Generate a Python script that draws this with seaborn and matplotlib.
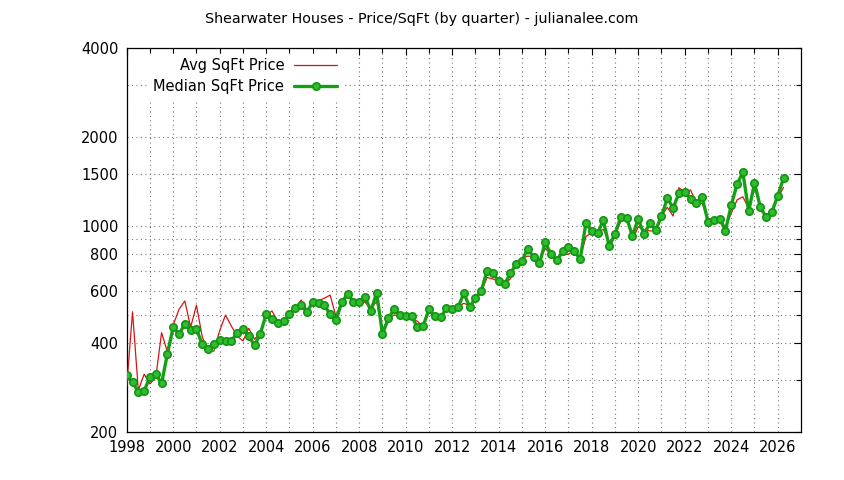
import numpy as np
import pandas as pd
import matplotlib
matplotlib.use("Agg")
import matplotlib.pyplot as plt
from matplotlib.ticker import FixedLocator, NullFormatter
import seaborn as sns

# quarterly values, 1998 Q1 .. 2026 Q2
median_price = [
    311, 295, 273, 275, 308, 314, 292, 368, 453, 429, 464, 442, 446, 396, 383, 396, 411,
    407, 407, 433, 446, 422, 393, 431, 502, 482, 467, 475, 502, 525, 537, 511, 550, 546, 537, 502, 478,
    550, 587, 553, 553, 575, 514, 593, 429, 485, 521, 497, 493, 493, 453, 457, 521,
    494, 489, 525, 521, 529, 590, 531, 568, 602, 704, 690, 649, 633, 690, 740, 761, 836, 781, 745, 878, 800,
    763, 819, 849, 823, 769, 1019, 959, 942, 1043, 851, 935, 1072, 1062, 925, 1053, 935, 1019,
    967, 1076, 1238, 1150, 1287, 1300, 1234, 1191, 1247, 1032, 1043, 1056, 962, 1172, 1384, 1516, 1118, 1395,
    1157, 1068, 1113, 1263, 1450,
]
avg_price = [
    285, 511, 277, 314, 291, 306, 434, 374, 461, 521, 556, 453, 538, 420, 376, 376, 441,
    498, 457, 423, 407, 449, 412, 437, 498, 514, 473, 479, 505, 521, 560, 518, 546, 557, 568, 582, 492,
    560, 575, 553, 553, 550, 525, 553, 443, 485, 498, 496, 485, 482, 475, 455, 518,
    479, 485, 520, 520, 531, 546, 536, 560, 597, 668, 660, 646, 636, 660, 755, 775, 789, 785, 755, 838, 797,
    775, 800, 800, 830, 775, 917, 952, 952, 972, 883, 930, 1032, 1060, 893, 992, 967, 960,
    962, 1076, 1154, 1078, 1345, 1300, 1321, 1191, 1191, 1061, 1040, 1060, 987, 1102, 1222, 1253, 1145, 1380,
    1160, 1068, 1113, 1240, 1349,
]
quarter = [1998 + i / 4 for i in range(len(median_price))]

year_labels = list(range(1998, 2027, 2))
y_major = [200, 400, 600, 800, 1000, 1500, 2000, 4000]
y_minor = [300, 500, 700, 900, 3000]

df = pd.DataFrame({"quarter": quarter, "avg": avg_price, "median": median_price})

sns.set_style("white")
plt.rcParams["font.family"] = ["DejaVu Sans"]
plt.rcParams["text.color"] = "black"
plt.rcParams["xtick.color"] = "black"
plt.rcParams["ytick.color"] = "black"
plt.rcParams["xtick.labelcolor"] = "black"
plt.rcParams["ytick.labelcolor"] = "black"

fig = plt.figure(figsize=(8.44, 4.80), dpi=100)
ax = fig.add_axes([126.7 / 844, 48 / 480, (801 - 126.7) / 844, 384 / 480])

sns.lineplot(data=df, x="quarter", y="avg", ax=ax, color="#d81414", linewidth=0.9,
             label="Avg SqFt Price", zorder=3)
sns.lineplot(data=df, x="quarter", y="median", ax=ax, color="#14a014", linewidth=2.4,
             marker="o", markersize=5.3, markerfacecolor="#30bb30", markeredgecolor="#129612",
             markeredgewidth=1.2, label="Median SqFt Price", zorder=4)

ax.set_yscale("log")
ax.set_ylim(200, 4000)
ax.set_xlim(1998, 2027)

ax.yaxis.set_major_locator(FixedLocator(y_major))
ax.yaxis.set_minor_locator(FixedLocator(y_minor))
ax.set_yticklabels([str(v) for v in y_major])
ax.yaxis.set_minor_formatter(NullFormatter())

ax.xaxis.set_major_locator(FixedLocator(year_labels))
ax.xaxis.set_minor_locator(FixedLocator(list(range(1999, 2027, 2))))
ax.set_xticklabels([str(v) for v in year_labels])

ax.tick_params(which="both", direction="in", top=True, right=True, color="black", width=0.8)
ax.tick_params(which="major", length=5, labelsize=10.5, pad=6, labelcolor="black")
ax.tick_params(which="minor", length=3.5)

grid_style = dict(color="#777777", linestyle=(0, (1, 3)), linewidth=0.8)
ax.grid(True, which="both", **grid_style)
ax.set_axisbelow(True)

for s in ax.spines.values():
    s.set_color("black")
    s.set_linewidth(0.9)

ax.set_xlabel("")
ax.set_ylabel("")

leg = ax.legend(loc="upper right", bbox_to_anchor=(0.318, 0.985), markerfirst=False,
                frameon=True, fancybox=False, framealpha=1, edgecolor="white",
                facecolor="white", fontsize=10.5, handlelength=2.9, handletextpad=0.7,
                borderpad=0.3, labelspacing=0.38, borderaxespad=0)
leg.set_zorder(5)
for t in leg.get_texts():
    t.set_ha("right")
    t.set_color("black")
leg._legend_box.align = "right"

fig.suptitle("Shearwater Houses - Price/SqFt (by quarter) - julianalee.com",
             x=0.5, y=1 - 19 / 480, va="center", fontsize=10.3, color="black")

fig.savefig("out.png", dpi=100)
